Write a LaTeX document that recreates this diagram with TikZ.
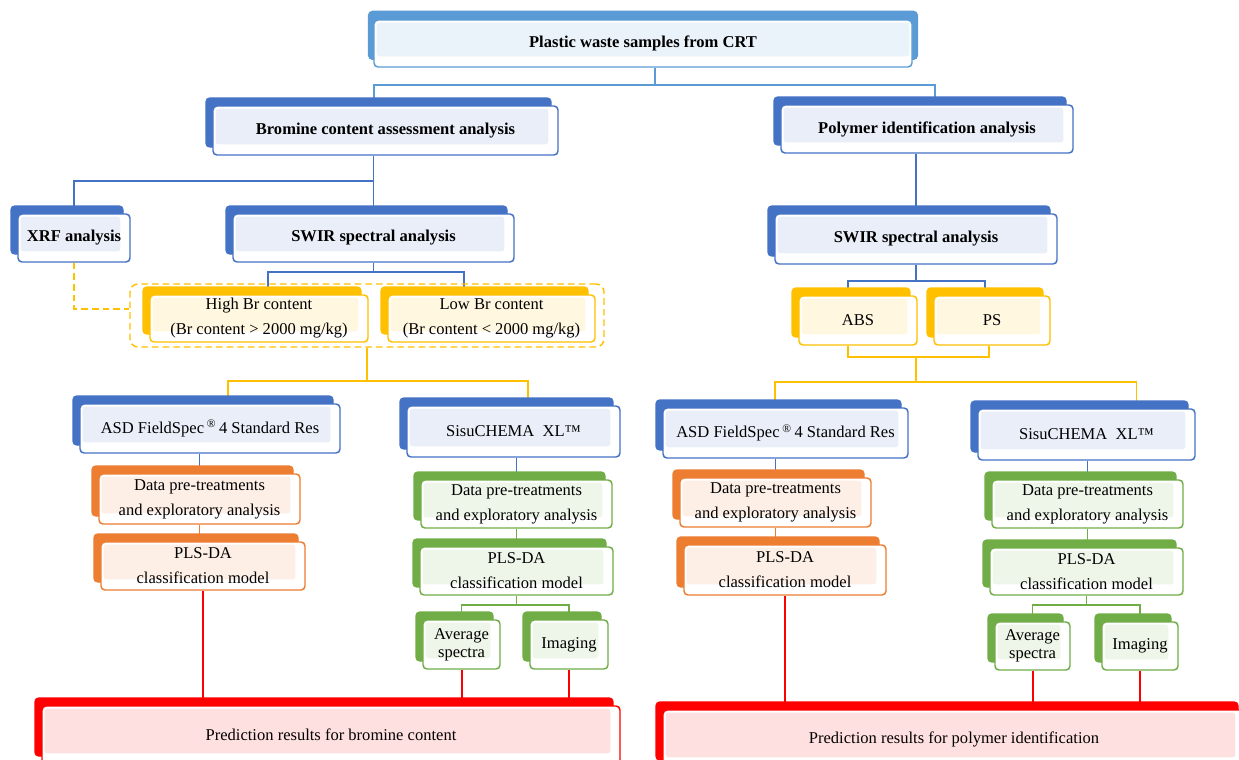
\documentclass[tikz,border=0pt]{standalone}
\usepackage{fontspec}
\setmainfont{Liberation Serif}
\usetikzlibrary{positioning}
\usetikzlibrary{backgrounds}
\usetikzlibrary{shadows}

\definecolor{boxblue}{HTML}{4472C4}
\definecolor{topblue}{HTML}{5B9BD5}
\definecolor{boxorange}{HTML}{ED7D31}
\definecolor{boxgold}{HTML}{FFC000}
\definecolor{boxgreen}{HTML}{70AD47}
\definecolor{boxred}{HTML}{FF0000}

\tikzset{
  smartbox/.style={rectangle, rounded corners=3pt, draw=#1, line width=1.1pt, fill=white,
    copy shadow={shadow xshift=-5.25pt, shadow yshift=6pt, fill=#1, draw=#1},
    path picture={\fill[#1!12, rounded corners=2pt]
      ([shift={(2pt,-2pt)}]path picture bounding box.north west) rectangle
      ([shift={(-7.25pt,8pt)}]path picture bounding box.south east);},
    align=center, inner sep=1pt, font=\fontsize{12.4}{18.75}\selectfont},
  widebox/.style={rectangle, rounded corners=3pt, draw=#1, line width=1.1pt, fill=white,
    copy shadow={shadow scale=1.02, shadow xshift=0pt, shadow yshift=6pt, fill=#1, draw=#1},
    path picture={\fill[#1!12, rounded corners=2pt]
      ([shift={(2pt,-2pt)}]path picture bounding box.north west) rectangle
      ([shift={(-2pt,8pt)}]path picture bounding box.south east);},
    align=center, inner sep=1pt, font=\fontsize{12.4}{18.75}\selectfont},
  boldtext/.style={font=\fontsize{12.4}{18.75}\selectfont\bfseries},
  boxsize/.style 2 args={minimum width=#1*0.75pt, minimum height=#2*0.75pt},
  bline/.style={draw=boxblue, line width=1.1pt},
  tline/.style={draw=topblue, line width=1.1pt},
  gline/.style={draw=boxgold, line width=1.2pt},
  oline/.style={draw=boxorange, line width=1.2pt},
  grline/.style={draw=boxgreen, line width=1.1pt},
  rline/.style={draw=boxred, line width=1.5pt}
}

\begin{document}
\begin{tikzpicture}[x=0.75pt, y=-0.75pt]

  \useasboundingbox (0,0) rectangle (1239,760);
  \clip (0,0) rectangle (1239,760);

  % Top level
  \node[widebox=topblue, boxsize={538}{47}, boldtext] (top) at (643,43.5) {Plastic waste samples from CRT};
  \node[smartbox=boxblue, boxsize={345}{49}, boldtext] (bromine) at (385.5,130.5) {Bromine content assessment analysis};
  \node[smartbox=boxblue, boxsize={292}{48}, boldtext] (polymer) at (927,129) {Polymer identification analysis};

  % Bromine branch
  \node[smartbox=boxblue, boxsize={112}{48}, boldtext] (xrf) at (74,238) {XRF analysis};
  \node[smartbox=boxblue, boxsize={281}{48}, boldtext] (swirL) at (373.5,238) {SWIR spectral analysis};
  \node[smartbox=boxgold, boxsize={218}{47}] (high) at (259,318.5) {High Br content\\(Br content > 2000 mg/kg)};
  \node[smartbox=boxgold, boxsize={207}{47}] (low) at (491.5,318.5) {Low Br content\\(Br content < 2000 mg/kg)};
  \node[draw=boxgold, line width=1.1pt, dash pattern=on 5pt off 3pt, rounded corners=6pt, boxsize={474}{63}] (brgroup) at (367,315.5) {};

  \node[smartbox=boxblue, boxsize={260}{49}] (asdL) at (210,428.5) {ASD FieldSpec\,\textsuperscript{®}\,4 Standard Res};
  \node[smartbox=boxorange, boxsize={201}{50}] (dataL) at (199.5,499) {Data pre-treatments\\and exploratory analysis};
  \node[smartbox=boxorange, boxsize={204}{48}] (plsL) at (203,566) {PLS-DA\\classification model};

  \node[smartbox=boxblue, boxsize={213}{51}] (sisuL) at (513.5,431.5) {SisuCHEMA\ \ XL™};
  \node[smartbox=boxgreen, boxsize={191}{48}] (dataLg) at (516.5,504) {Data pre-treatments\\and exploratory analysis};
  \node[smartbox=boxgreen, boxsize={193}{48}] (plsLg) at (516.5,571) {PLS-DA\\classification model};
  \node[smartbox=boxgreen, boxsize={77}{49}, font=\fontsize{12.4}{13.5}\selectfont] (avgL) at (461.5,644.5) {Average\\spectra};
  \node[smartbox=boxgreen, boxsize={78}{49}] (imgL) at (569,644.5) {Imaging};

  \node[smartbox=boxred, boxsize={578}{58}] (predL) at (331,735) {Prediction results for bromine content};

  % Polymer branch
  \node[smartbox=boxblue, boxsize={282}{50}, boldtext] (swirR) at (916,239) {SWIR spectral analysis};
  \node[smartbox=boxgold, boxsize={118}{49}] (abs) at (858,320.5) {ABS};
  \node[smartbox=boxgold, boxsize={116}{49}] (ps) at (992,320.5) {PS};

  \node[smartbox=boxblue, boxsize={245}{50}] (asdR) at (785.5,433) {ASD FieldSpec\,\textsuperscript{®}\,4 Standard Res};
  \node[smartbox=boxorange, boxsize={191}{49}] (dataR) at (775.5,502.5) {Data pre-treatments\\and exploratory analysis};
  \node[smartbox=boxorange, boxsize={202}{50}] (plsR) at (785,570) {PLS-DA\\classification model};

  \node[smartbox=boxblue, boxsize={217}{51}] (sisuR) at (1086.5,434.5) {SisuCHEMA\ \ XL™};
  \node[smartbox=boxgreen, boxsize={191}{48}] (dataRg) at (1087.5,504) {Data pre-treatments\\and exploratory analysis};
  \node[smartbox=boxgreen, boxsize={193}{47}] (plsRg) at (1086.5,571.5) {PLS-DA\\classification model};
  \node[smartbox=boxgreen, boxsize={75}{48}, font=\fontsize{12.4}{13.5}\selectfont] (avgR) at (1032.5,646) {Average\\spectra};
  \node[smartbox=boxgreen, boxsize={76}{48}] (imgR) at (1140,646) {Imaging};

  \node[smartbox=boxred, boxsize={582}{58}] (predR) at (954,739) {Prediction results for polymer identification};

  % Connectors
  \begin{scope}[on background layer]
    \coordinate (lvtop) at (0,85);
    \coordinate (lvbr) at (0,181);
    \coordinate (lvsw) at (0,272);
    \coordinate (lvbg) at (0,381);
    \coordinate (lvpl) at (0,605);
    \coordinate (lvsr) at (0,281);
    \coordinate (lvab) at (0,357);
    \coordinate (lvps) at (0,382);

    \draw[tline] ([xshift=9pt]top.south) -- ([xshift=9pt]top.south |- lvtop);
    \draw[tline] ([xshift=-8.6pt]bromine.north) |- ([xshift=9pt]top.south |- lvtop) -| ([xshift=6pt]polymer.north);

    \draw[bline] (swirL.north) -- (swirL.north |- bromine.south);
    \draw[bline] (xrf.north) |- (swirL.north |- lvbr);
    \draw[gline, dash pattern=on 5pt off 3pt] (xrf.south) |- ([yshift=5pt]brgroup.west);
    \draw[bline] (swirL.south) -- (swirL.south |- lvsw);
    \draw[bline] ([xshift=6.75pt]high.north) |- (swirL.south |- lvsw) -| ([xshift=-20.6pt]low.north);

    \draw[gline] (brgroup.south) -- (brgroup.south |- lvbg);
    \draw[gline] ([xshift=13.5pt]asdL.north) |- (brgroup.south |- lvbg) -| ([xshift=10.9pt]sisuL.north);

    \draw[bline] (dataL.north) -- (dataL.north |- asdL.south);
    \draw[oline] (dataL.south) -- (dataL.south |- plsL.north);
    \draw[rline] (plsL.south) -- (plsL.south |- predL.north);

    \draw[bline] (dataLg.north) -- (dataLg.north |- sisuL.south);
    \draw[grline] (dataLg.south) -- (dataLg.south |- plsLg.north);
    \draw[grline] (plsLg.south) -- (plsLg.south |- lvpl);
    \draw[grline] (avgL.north) |- (plsLg.south |- lvpl) -| (imgL.north);
    \draw[rline] (avgL.south) -- (avgL.south |- predL.north);
    \draw[rline] (imgL.south) -- (imgL.south |- predL.north);

    \draw[bline] (swirR.north) -- (swirR.north |- polymer.south);
    \draw[bline] (swirR.south) -- (swirR.south |- lvsr);
    \draw[bline] ([xshift=-7.5pt]abs.north) |- (swirR.south |- lvsr) -| ([xshift=-5.25pt]ps.north);
    \draw[gline] ([xshift=-7.5pt]abs.south) |- (swirR.south |- lvab) -| ([xshift=-2.25pt]ps.south);
    \draw[gline] (swirR.south |- lvab) -- (swirR.south |- lvps);
    \draw[gline] ([xshift=-7.9pt]asdR.north) |- (swirR.south |- lvps) -| ([xshift=37.5pt]sisuR.north);

    \draw[bline] (dataR.north) -- (dataR.north |- asdR.south);
    \draw[oline] (dataR.south) -- (dataR.south |- plsR.north);
    \draw[rline] (plsR.south) -- (plsR.south |- predR.north);

    \draw[bline] (dataRg.north) -- (dataRg.north |- sisuR.south);
    \draw[grline] (dataRg.south) -- (dataRg.south |- plsRg.north);
    \draw[grline] (plsRg.south) -- (plsRg.south |- lvpl);
    \draw[grline] (avgR.north) |- (plsRg.south |- lvpl) -| (imgR.north);
    \draw[rline] (avgR.south) -- (avgR.south |- predR.north);
    \draw[rline] (imgR.south) -- (imgR.south |- predR.north);
  \end{scope}

\end{tikzpicture}
\end{document}
